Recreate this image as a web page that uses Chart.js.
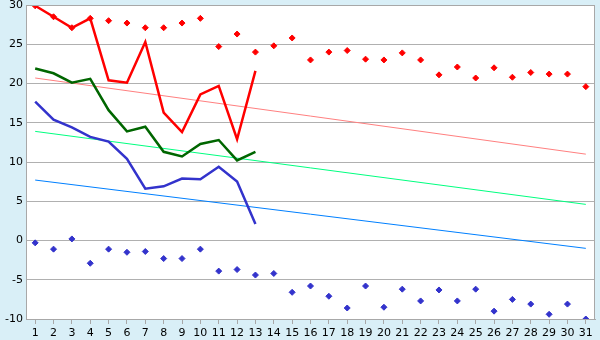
<!DOCTYPE html>
<html lang="en"><head>
  <meta charset="UTF-8">
  <title>Temperature chart</title>
  <script src="https://cdn.jsdelivr.net/npm/chart.js"></script>
  <style>
    body { margin: 0; background: #d9eff7; }
    canvas { display: block; }
  </style>
</head><body>
<canvas id="chart" width="600" height="340"></canvas>
<script>
  const days = ['1','2','3','4','5','6','7','8','9','10','11','12','13','14','15','16',
    '17','18','19','20','21','22','23','24','25','26','27','28','29','30','31'];
  const yTicks = [-10, -5, 0, 5, 10, 15, 20, 25, 30];

  // daily values, first 13 days
  const dailyMax = [29.9, 28.5, 27.1, 28.3, 20.4, 20.1, 25.3, 16.3, 13.8, 18.6, 19.7, 12.9, 21.6];
  const dailyMean = [21.9, 21.3, 20.1, 20.6, 16.6, 13.9, 14.5, 11.3, 10.7, 12.3, 12.8, 10.2, 11.3];
  const dailyMin = [17.7, 15.4, 14.4, 13.2, 12.6, 10.4, 6.6, 6.9, 7.9, 7.8, 9.4, 7.5, 2.1];

  // record highs / lows per day
  const recordMax = [29.9, 28.5, 27.1, 28.3, 28.0, 27.7, 27.1, 27.1, 27.7, 28.3, 24.7, 26.3, 24.0, 24.8, 25.8, 23.0,
    24.0, 24.2, 23.1, 23.0, 23.9, 23.0, 21.1, 22.1, 20.7, 22.0, 20.8, 21.4, 21.2, 21.2, 19.6];
  const recordMin = [-0.3, -1.1, 0.2, -2.9, -1.1, -1.5, -1.4, -2.3, -2.3, -1.1, -3.9, -3.7, -4.4, -4.2, -6.6, -5.8,
    -7.1, -8.6, -5.8, -8.5, -6.2, -7.7, -6.3, -7.7, -6.2, -9.0, -7.5, -8.1, -9.4, -8.1, -10.0];

  // normal values: start and end of month
  const normalMax = [20.7, 11.0];
  const normalMean = [13.9, 4.6];
  const normalMin = [7.7, -1.0];

  function endpoints(pair) {
    const arr = days.map(() => null);
    arr[0] = pair[0];
    arr[days.length - 1] = pair[1];
    return arr;
  }

  const plotBg = {
    id: 'plotBg',
    beforeDraw(chart) {
      const { ctx, chartArea: a } = chart;
      ctx.save();
      ctx.fillStyle = '#ffffff';
      ctx.fillRect(a.left, a.top, a.right - a.left, a.bottom - a.top);
      ctx.restore();
    },
    afterDraw(chart) {
      const { ctx, chartArea: a } = chart;
      ctx.save();
      ctx.strokeStyle = '#a8a8a8';
      ctx.lineWidth = 1;
      ctx.strokeRect(a.left + 0.5, a.top + 0.5, a.right - a.left - 1, a.bottom - a.top);
      ctx.restore();
    }
  };

  const line = (data, color, width) => ({
    data, borderColor: color, borderWidth: width, pointRadius: 0,
    fill: false, tension: 0, spanGaps: true
  });
  const dots = (data, color) => ({
    data, showLine: false, pointStyle: 'rectRot', pointRadius: 3,
    pointBackgroundColor: color, pointBorderColor: color, pointBorderWidth: 1
  });

  Chart.defaults.font.family = 'DejaVu Sans';
  Chart.defaults.font.size = 11;
  Chart.defaults.color = '#000000';

  new Chart(document.getElementById('chart'), {
    type: 'line',
    data: {
      labels: days,
      datasets: [
        line(dailyMax, '#ff0000', 2.5),
        line(dailyMean, '#006600', 2.5),
        line(dailyMin, '#3333cc', 2.5),
        dots(recordMax, '#ff0000'),
        dots(recordMin, '#3333cc'),
        line(endpoints(normalMax), '#ff8080', 1),
        line(endpoints(normalMean), '#00ff80', 1),
        line(endpoints(normalMin), '#0080ff', 1)
      ]
    },
    options: {
      responsive: false,
      animation: false,
      layout: { padding: { top: 5, right: 5 } },
      plugins: { legend: { display: false }, tooltip: { enabled: false } },
      scales: {
        x: {
          offset: true,
          grid: { drawOnChartArea: false, drawTicks: true, tickLength: 5, color: '#a8a8a8' },
          border: { color: '#a8a8a8' },
          ticks: { autoSkip: false, maxRotation: 0, padding: 3 },
          afterFit(scale) { scale.height = 21; scale.paddingLeft = 0; scale.paddingRight = 0; }
        },
        y: {
          min: -10, max: 30,
          afterBuildTicks(scale) { scale.ticks = yTicks.map(v => ({ value: v })); },
          grid: { color: '#b0b0b0', drawTicks: false },
          border: { color: '#a8a8a8' },
          ticks: { padding: 3 },
          afterFit(scale) { scale.width = 26; scale.paddingTop = 0; scale.paddingBottom = 0; }
        }
      }
    },
    plugins: [plotBg]
  });
</script>
</body></html>
